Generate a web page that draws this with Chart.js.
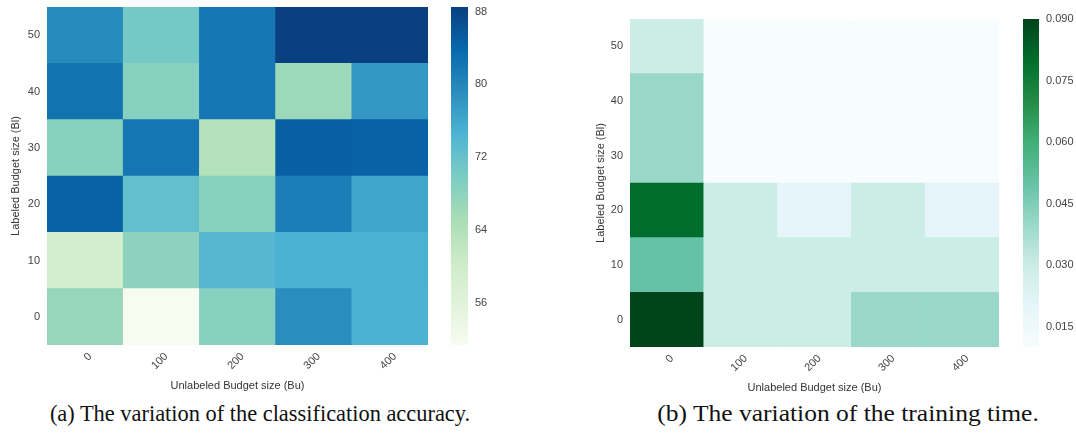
<!DOCTYPE html>
<html>
<head>
<meta charset="utf-8">
<script src="https://cdn.jsdelivr.net/npm/chart.js@4.4.0/dist/chart.umd.min.js"></script>
<style>
  body { margin: 0; background: #fff; width: 1076px; height: 434px; position: relative; overflow: hidden; }
  canvas { position: absolute; top: 0; }
  .cap { position: absolute; top: 401px; font-family: "Liberation Serif", "Times New Roman", serif;
         font-size: 22.4px; color: #111; white-space: nowrap; transform: translateX(-50%); }
  .cap.wide { transform: translateX(-50%) scaleX(1.14); }
</style>
</head>
<body>
<canvas id="accMap" width="440" height="400" style="left:0"></canvas>
<canvas id="accBar" width="60" height="400" style="left:440px"></canvas>
<canvas id="timeMap" width="430" height="400" style="left:580px"></canvas>
<canvas id="timeBar" width="61" height="400" style="left:1015px"></canvas>
<div class="cap" style="left:260px">(a) The variation of the classification accuracy.</div>
<div class="cap wide" style="left:848px">(b) The variation of the training time.</div>

<script>
// axes
const budgetU = ['0', '100', '200', '300', '400'];   // Unlabeled budget (x)
const budgetL = [0, 10, 20, 30, 40, 50];             // Labeled budget (y)

// (a) classification accuracy, one array per labeled budget row
const accBl0  = [67.2, 51.4, 68.6, 79.2, 74.8];
const accBl10 = [59.2, 68.2, 73.8, 74.8, 74.9];
const accBl20 = [84.5, 72.3, 68.6, 81.1, 76.2];
const accBl30 = [68.6, 82.0, 64.0, 84.8, 84.5];
const accBl40 = [82.5, 68.6, 82.0, 66.6, 77.9];
const accBl50 = [79.6, 70.7, 82.0, 88.5, 88.5];
const accTicks = [56, 64, 72, 80, 88];

// (b) training time
const timeBl0  = [0.09, 0.03, 0.03, 0.04, 0.04];
const timeBl10 = [0.05, 0.03, 0.03, 0.03, 0.03];
const timeBl20 = [0.08, 0.03, 0.02, 0.03, 0.02];
const timeBl30 = [0.04, 0.01, 0.01, 0.01, 0.01];
const timeBl40 = [0.04, 0.01, 0.01, 0.01, 0.01];
const timeBl50 = [0.03, 0.01, 0.01, 0.01, 0.01];
const timeTicks = [0.015, 0.030, 0.045, 0.060, 0.075, 0.090];

const accRows = [accBl0, accBl10, accBl20, accBl30, accBl40, accBl50];
const timeRows = [timeBl0, timeBl10, timeBl20, timeBl30, timeBl40, timeBl50];

// colorbrewer maps as matplotlib uses them
const GnBu = ['#f7fcf0','#e0f3db','#ccebc5','#a8ddb5','#7bccc4','#4eb3d3','#2b8cbe','#0868ac','#084081'];
const BuGn = ['#f7fcfd','#e5f5f9','#ccece6','#99d8c9','#66c2a4','#41ae76','#238b45','#006d2c','#00441b'];

Chart.defaults.font.family = '"Liberation Sans", Arial, sans-serif';
Chart.defaults.font.size = 11;
Chart.defaults.color = '#444';
Chart.defaults.animation = false;

function hex(c) {
  return [1, 3, 5].map(i => parseInt(c.substr(i, 2), 16));
}

function colorAt(cmap, t) {
  t = Math.max(0, Math.min(1, t));
  const pos = t * (cmap.length - 1);
  const i = Math.min(Math.floor(pos), cmap.length - 2);
  const f = pos - i;
  const a = hex(cmap[i]), b = hex(cmap[i + 1]);
  const rgb = a.map((v, k) => Math.round(v + (b[k] - v) * f));
  return `rgb(${rgb.join(',')})`;
}

// no extra room for the end tick labels, the layout padding decides
function noEndPadding(s) {
  s.paddingTop = 0;
  s.paddingBottom = 0;
}

function heatmap(id, rows, cmap, vmin, vmax, pad, yW, xH) {
  const datasets = budgetL.map((bl, i) => ({
    data: rows[i].map(() => [bl - 5, bl + 5]),
    backgroundColor: rows[i].map(v => colorAt(cmap, (v - vmin) / (vmax - vmin))),
    borderWidth: 0,
    barPercentage: 1,
    categoryPercentage: 1,
    grouped: false
  }));
  return new Chart(document.getElementById(id), {
    type: 'bar',
    data: { labels: budgetU, datasets },
    options: {
      responsive: false,
      layout: { padding: pad },
      plugins: { legend: { display: false }, tooltip: { enabled: false } },
      scales: {
        x: {
          grid: { display: false, drawTicks: false }, border: { display: false },
          ticks: { minRotation: 45, maxRotation: 45, labelOffset: 5, padding: 5 },
          title: { display: true, text: 'Unlabeled Budget size (Bu)', color: '#333' },
          afterFit: s => { s.height = xH; }
        },
        y: {
          min: -5, max: 55,
          grid: { display: false, drawTicks: false }, border: { display: false },
          ticks: { padding: 7 },
          afterBuildTicks: s => { s.ticks = budgetL.map(v => ({ value: v })); },
          title: { display: true, text: 'Labeled Budget size (Bl)', color: '#333' },
          afterFit: s => { s.width = yW; noEndPadding(s); }
        }
      }
    }
  });
}

function colorbar(id, cmap, vmin, vmax, ticks, fmt, pad, yW) {
  return new Chart(document.getElementById(id), {
    type: 'bar',
    data: {
      labels: [''],
      datasets: [{
        data: [[vmin, vmax]],
        borderWidth: 0,
        barPercentage: 1,
        categoryPercentage: 1,
        backgroundColor: ctx => {
          const area = ctx.chart.chartArea;
          if (!area) return cmap[0];
          const g = ctx.chart.ctx.createLinearGradient(0, area.bottom, 0, area.top);
          cmap.forEach((c, i) => g.addColorStop(i / (cmap.length - 1), c));
          return g;
        }
      }]
    },
    options: {
      responsive: false,
      layout: { padding: pad },
      plugins: { legend: { display: false }, tooltip: { enabled: false } },
      scales: {
        x: { display: false },
        y: {
          position: 'right',
          min: vmin, max: vmax,
          grid: { display: false, drawTicks: false }, border: { display: false },
          ticks: { padding: 7, callback: v => fmt(v) },
          afterBuildTicks: s => { s.ticks = ticks.map(v => ({ value: v })); },
          afterFit: s => { s.width = yW; noEndPadding(s); }
        }
      }
    }
  });
}

heatmap('accMap', accRows, GnBu, 51.4, 88.5, { left: 5, top: 7, right: 12, bottom: 3 }, 42, 52);
colorbar('accBar', GnBu, 51.4, 88.5, accTicks, v => String(v), { left: 11, top: 7, right: 0, bottom: 55 }, 32);

heatmap('timeMap', timeRows, BuGn, 0.01, 0.09, { left: 10, top: 19, right: 11, bottom: 1 }, 40, 52);
colorbar('timeBar', BuGn, 0.01, 0.09, timeTicks, v => v.toFixed(3), { left: 8, top: 19, right: 0, bottom: 53 }, 37);
</script>
</body>
</html>
